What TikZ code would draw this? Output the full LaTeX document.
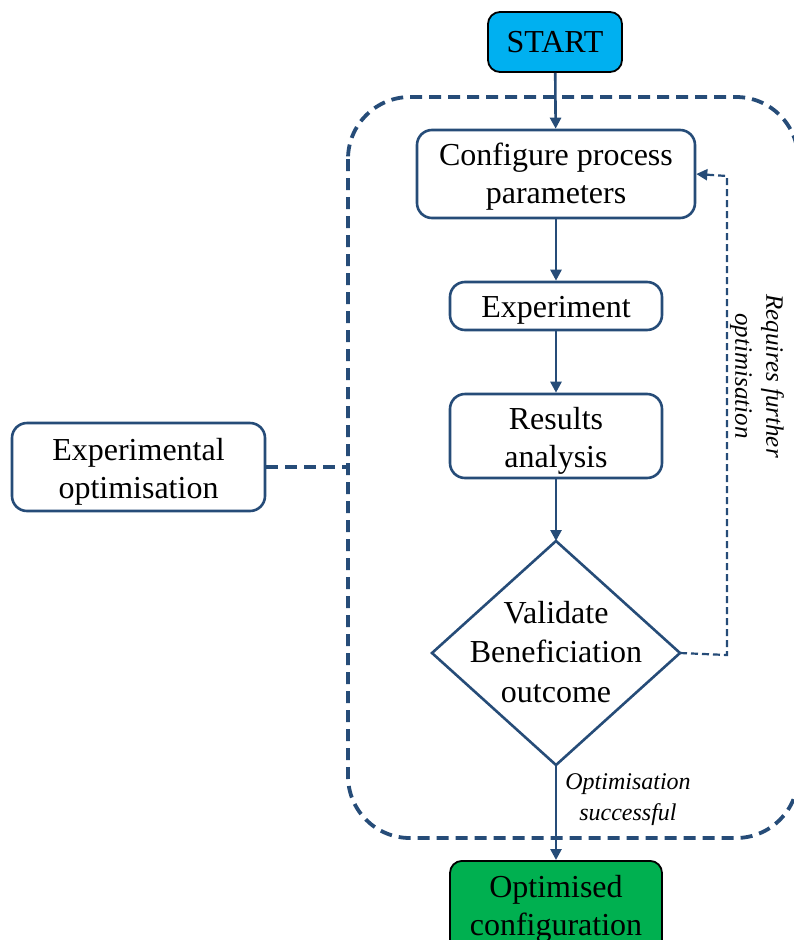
\documentclass[tikz,border=0pt]{standalone}
\usepackage{fontspec}
\setmainfont{Liberation Serif}
\usetikzlibrary{shapes.geometric,arrows.meta}
\definecolor{navy}{RGB}{38,76,120}
\definecolor{startblue}{RGB}{0,176,240}
\definecolor{okgreen}{RGB}{0,176,80}
\begin{document}
\begin{tikzpicture}[x=1pt,y=-1pt,
  box/.style={draw=navy,line width=2.6pt,rounded corners=15pt,fill=white,inner sep=0pt},
  term/.style={draw=black,line width=1.8pt,rounded corners=12pt,align=center,
    font=\fontsize{32}{38}\selectfont,inner sep=0pt},
  txt/.style={align=center,font=\fontsize{32}{38}\selectfont,inner sep=0pt},
  flow/.style={draw=navy,line width=2.6pt,-{Triangle[length=11pt,width=11pt]}},
  lbl/.style={font=\fontsize{25}{31}\selectfont\itshape,align=center}]
\useasboundingbox (0,0) rectangle (794,940);
\begin{scope}
\clip (0,0) rectangle (794,940);
% container
\draw[navy,line width=3.8pt,dash pattern=on 12pt off 7pt,rounded corners=62pt]
  (348,97) rectangle (798,838);
\node[term,fill=startblue,minimum width=134pt,minimum height=60pt] (start) at (555,42) {START};
\node[box,minimum width=278pt,minimum height=88pt] (conf) at (556,174) {};
\node[txt] (confT) at (556,177) {Configure process\\parameters};
\node[box,minimum width=212pt,minimum height=48pt] (exp) at (556,306) {};
\node[txt] (expT) at (556,310) {Experiment};
\node[box,minimum width=212pt,minimum height=84pt] (res) at (556,436) {};
\node[txt] (resT) at (556,441) {Results\\analysis};
% decision
\coordinate (valN) at (556,541);
\coordinate (valS) at (556,765);
\coordinate (valE) at (680,653);
\coordinate (valW) at (432,653);
\draw[navy,line width=2.6pt,fill=white,line join=miter] (valN) -- (valE) -- (valS) -- (valW) -- cycle;
\node[txt,font=\fontsize{32}{39.5}\selectfont] (val) at (556,652) {Validate\\Beneficiation\\outcome};
\node[term,fill=okgreen,minimum width=212pt,minimum height=96pt,anchor=north] (opt) at (556,860) {Optimised\\configuration};
\node[box,minimum width=253pt,minimum height=88pt] (eo) at (138.5,467) {};
\node[txt] (eoT) at (138.5,471.5) {Experimental\\optimisation};
\coordinate (cl) at (348,467);
\coordinate (fb1) at (727,655);
\coordinate (fb2) at (727,176);
\draw[flow] (start) -- (conf);
\draw[flow] (conf) -- (exp);
\draw[flow] (exp) -- (res);
\draw[flow] (res) -- (valN);
\draw[flow] (valS) -- (opt.north);
\draw[navy,line width=3.8pt,dash pattern=on 12pt off 7pt] (eo.east) -- (cl);
\draw[navy,line width=2.2pt,dash pattern=on 7pt off 4pt,-{Triangle[length=11pt,width=11pt]}]
  (valE) -- (fb1) -- (fb2) -- (conf.east);
\node[lbl,rotate=-90] (req) at (757,376) {Requires further\\optimisation};
\node[lbl,font=\fontsize{24}{31}\selectfont\itshape] (succ) at (628,800) {Optimisation\\successful};
\end{scope}
\end{tikzpicture}
\end{document}
